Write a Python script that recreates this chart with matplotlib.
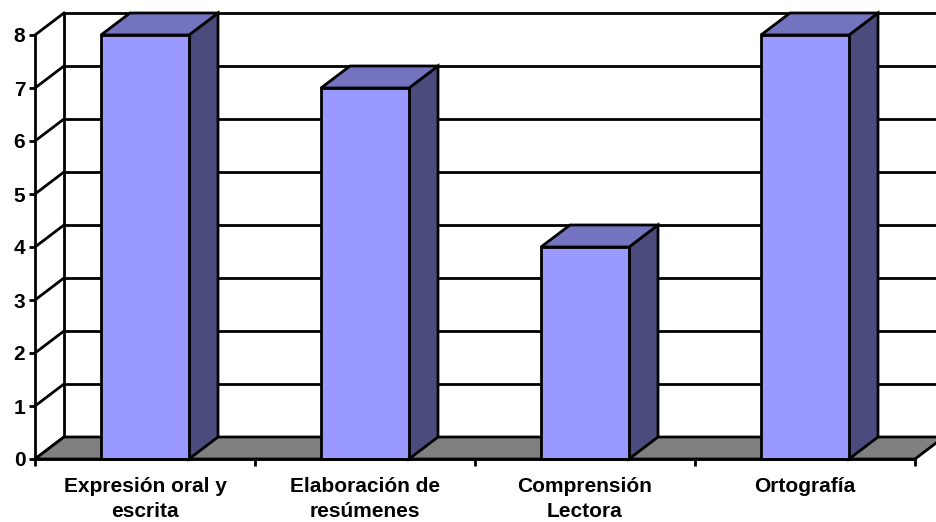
import matplotlib
matplotlib.use("Agg")
import matplotlib.pyplot as plt
from matplotlib.patches import Polygon, Rectangle

plt.rcParams['font.family'] = ['Liberation Sans', 'DejaVu Sans']

# Data
categories = ["Expresión oral y\nescrita", "Elaboración de\nresúmenes",
              "Comprensión\nLectora", "Ortografía"]
values = [8, 7, 4, 8]
y_ticks = [0, 1, 2, 3, 4, 5, 6, 7, 8]

FRONT = "#9999FF"
SIDE = "#4B4B7E"
TOP = "#7373BF"
FLOOR = "#808080"
EDGE = "black"
LW = 2.0

fig = plt.figure(figsize=(9.36, 5.22), dpi=100)
ax = fig.add_axes([35 / 936, 63 / 522, 880 / 936, 424 / 522])
ax.set_xlim(-0.5, 3.5)
ax.set_ylim(0, 8)

# depth offset of the 3D box, in data units
ddx = 29 / 220
ddy = 22 / 53
x0, x1 = -0.5, 3.5
x_far = x1 + ddx + 0.3

# back wall: gridlines and left edge
for v in y_ticks:
    ax.plot([x0 + ddx, x_far], [v + ddy, v + ddy], color=EDGE, lw=LW,
            clip_on=False, zorder=1, solid_capstyle='butt')
ax.plot([x0 + ddx, x0 + ddx], [ddy, 8 + ddy], color=EDGE, lw=LW,
        clip_on=False, zorder=1)

# side wall lines from the front axis to the back wall
for v in y_ticks:
    ax.plot([x0, x0 + ddx], [v, v + ddy], color=EDGE, lw=LW,
            clip_on=False, zorder=1)

# floor
floor = Polygon([(x0, 0), (x1, 0), (x1 + ddx, ddy), (x0 + ddx, ddy)],
                closed=True, facecolor=FLOOR, edgecolor=EDGE, lw=LW,
                clip_on=False, zorder=2, joinstyle='miter')
ax.add_patch(floor)

# columns
half = 0.2
for i, v in enumerate(values):
    l, r = i - half, i + half
    side = Polygon([(r, 0), (r + ddx, ddy), (r + ddx, v + ddy), (r, v)],
                   closed=True, facecolor=SIDE, edgecolor=EDGE, lw=LW,
                   clip_on=False, zorder=3, joinstyle='miter')
    top = Polygon([(l, v), (r, v), (r + ddx, v + ddy), (l + ddx, v + ddy)],
                  closed=True, facecolor=TOP, edgecolor=EDGE, lw=LW,
                  clip_on=False, zorder=3, joinstyle='miter')
    front = Rectangle((l, 0), 2 * half, v, facecolor=FRONT, edgecolor=EDGE,
                      lw=LW, clip_on=False, zorder=4, joinstyle='miter')
    ax.add_patch(side)
    ax.add_patch(top)
    ax.add_patch(front)

# axes styling
for s in ("top", "right"):
    ax.spines[s].set_visible(False)
for s in ("left", "bottom"):
    ax.spines[s].set_linewidth(LW)
    ax.spines[s].set_zorder(5)

ax.set_yticks(y_ticks)
ax.set_yticklabels([str(v) for v in y_ticks], fontsize=15, fontweight='bold')
ax.tick_params(axis='y', direction='out', length=4, width=LW, pad=3)

ax.set_xticks([-0.5, 0.5, 1.5, 2.5, 3.5])
ax.set_xticklabels([])
ax.tick_params(axis='x', which='major', direction='out', length=5, width=LW)
ax.set_xticks(range(len(categories)), minor=True)
ax.set_xticklabels(categories, minor=True, fontsize=15, fontweight='bold',
                   linespacing=1.37)
ax.tick_params(axis='x', which='minor', length=0, pad=13)

ax.set_facecolor("none")
fig.savefig("out.png", dpi=100, facecolor="white")
